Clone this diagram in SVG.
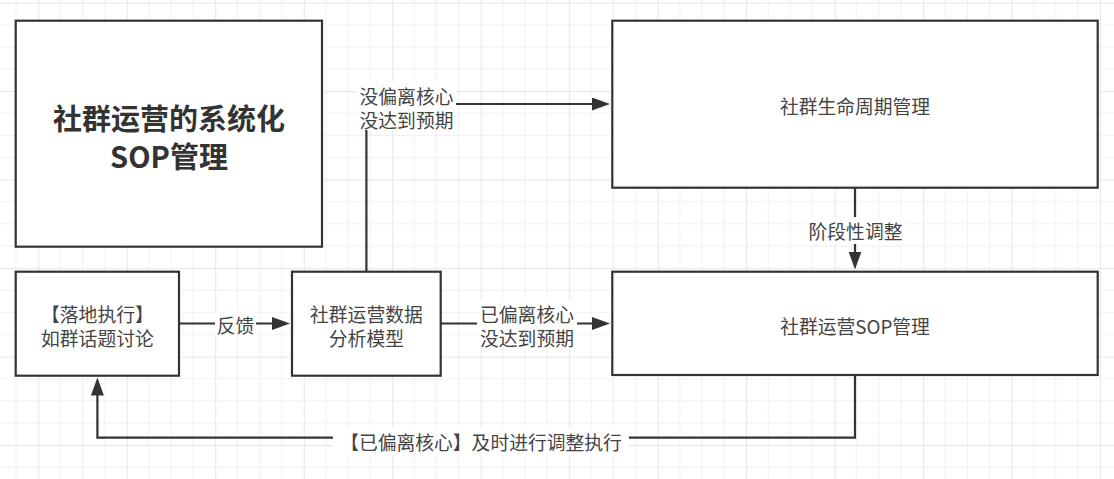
<svg xmlns="http://www.w3.org/2000/svg" width="1114" height="479" viewBox="0 0 1114 479">
<style>
.box{fill:#ffffff;stroke:#333333;stroke-width:2.2}
.t{font-family:"Noto Sans CJK SC","Noto Sans",sans-serif;font-size:18.8px;fill:#444444;text-anchor:middle;dominant-baseline:central}
.title{font-size:29px;font-weight:bold;fill:#333333}
.edge{fill:none;stroke:#333333;stroke-width:2.2}
.lbg{fill:#ffffff}
.gmin{stroke:#f0f0f0;stroke-width:1}
.gmaj{stroke:#e6e6e6;stroke-width:1}
</style>
<defs>
<pattern id="grid" patternUnits="userSpaceOnUse" x="38.3" y="2.7" width="88.48" height="88.48">
<line class="gmin" x1="22.12" y1="0" x2="22.12" y2="88.48"/>
<line class="gmin" x1="44.24" y1="0" x2="44.24" y2="88.48"/>
<line class="gmin" x1="66.36" y1="0" x2="66.36" y2="88.48"/>
<line class="gmin" x1="0" y1="22.12" x2="88.48" y2="22.12"/>
<line class="gmin" x1="0" y1="44.24" x2="88.48" y2="44.24"/>
<line class="gmin" x1="0" y1="66.36" x2="88.48" y2="66.36"/>
<line class="gmaj" x1="0.5" y1="0" x2="0.5" y2="88.48"/>
<line class="gmaj" x1="0" y1="0.5" x2="88.48" y2="0.5"/>
</pattern>
<marker id="arr" markerUnits="userSpaceOnUse" markerWidth="20" markerHeight="14" refX="8" refY="6.5" orient="auto">
<path d="M0,0 L18,6.5 L0,13 Z" fill="#333333"/>
</marker>
</defs>
<rect x="0" y="0" width="1114" height="479" fill="#ffffff"/>
<rect x="0" y="0" width="1114" height="479" fill="url(#grid)"/>

<g id="connectors">
<path id="e-feedback" class="edge" d="M179,323.5 L280,323.5" marker-end="url(#arr)"/>
<path id="e-lifecycle" class="edge" d="M366.4,271.7 L366.4,104 L600,104" marker-end="url(#arr)"/>
<path id="e-sop" class="edge" d="M440.7,323.5 L600,323.5" marker-end="url(#arr)"/>
<path id="e-stage" class="edge" d="M855,187.7 L855,259.5" marker-end="url(#arr)"/>
<path id="e-back" class="edge" d="M855,375 L855,437.7 L97.4,437.7 L97.4,387.5" marker-end="url(#arr)"/>
<rect class="lbg" x="215" y="312" width="41" height="24"/>
<text class="t" x="235.5" y="324.5">反馈</text>
<rect class="lbg" x="357" y="82" width="99" height="48"/>
<text class="t" x="406.5" y="95">没偏离核心<tspan x="406.5" dy="23.5">没达到预期</tspan></text>
<rect class="lbg" x="477" y="300" width="100" height="49"/>
<text class="t" x="527" y="313.3">已偏离核心<tspan x="527" dy="23.7">没达到预期</tspan></text>
<rect class="lbg" x="806" y="217" width="100" height="27"/>
<text class="t" x="855.5" y="230.7">阶段性调整</text>
<rect class="lbg" x="333" y="428" width="296" height="27"/>
<text class="t" x="481" y="441">【已偏离核心】及时进行调整执行</text>
</g>

<g id="node-title">
<rect class="box" x="15.7" y="20.7" width="306.3" height="226"/>
<text class="t title" x="169" y="116.7">社群运营的系统化<tspan x="169" dy="38.3">SOP管理</tspan></text>
</g>
<g id="node-execute">
<rect class="box" x="15.7" y="271.7" width="163.3" height="104"/>
<text class="t" x="97.4" y="313.3">【落地执行】<tspan x="97.4" dy="23.4">如群话题讨论</tspan></text>
</g>
<g id="node-model">
<rect class="box" x="292" y="271.7" width="148.7" height="104"/>
<text class="t" x="366.4" y="313.3">社群运营数据<tspan x="366.4" dy="23.4">分析模型</tspan></text>
</g>
<g id="node-lifecycle">
<rect class="box" x="612.3" y="20.7" width="485.4" height="167"/>
<text class="t" x="855" y="105">社群生命周期管理</text>
</g>
<g id="node-sop">
<rect class="box" x="612.3" y="271.7" width="485.4" height="103.3"/>
<text class="t" x="855" y="325">社群运营SOP管理</text>
</g>
</svg>
